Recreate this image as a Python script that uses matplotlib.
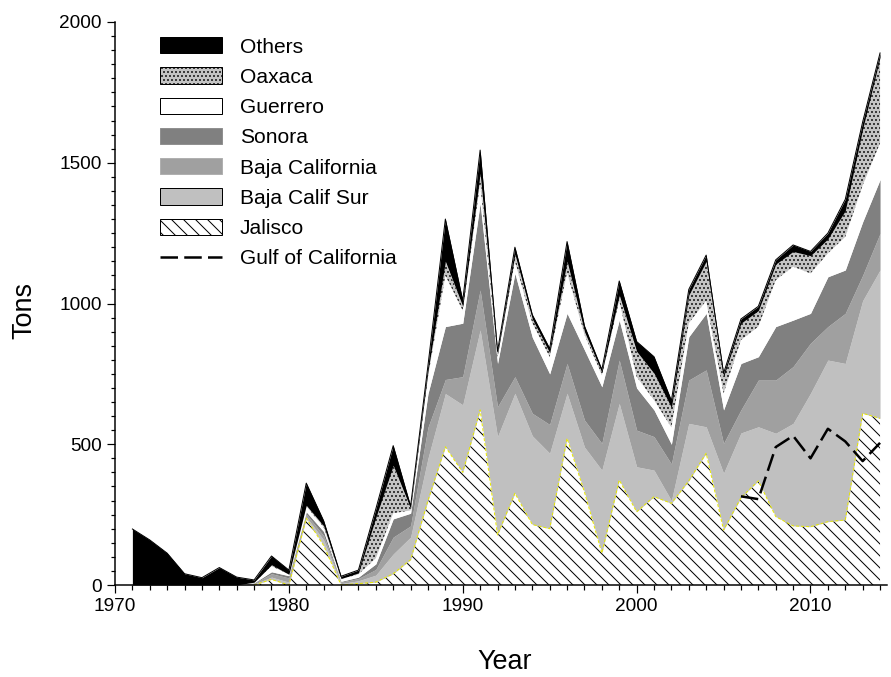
import numpy as np
import matplotlib.pyplot as plt
from matplotlib.patches import Patch
from matplotlib.lines import Line2D
from matplotlib.ticker import MultipleLocator


years = np.arange(1971, 2015)

# tons per state (stack order bottom -> top)
jalisco = [0, 0, 0, 0, 0, 0, 0, 0, 20, 0, 237, 140, 0, 5, 10, 40, 90, 300, 491, 400,
           622, 178, 326, 215, 200, 521, 330, 113, 373, 260, 314, 290, 370, 468, 195,
           310, 370, 243, 210, 207, 225, 231, 610, 592]
baja_sur = [0, 0, 0, 0, 0, 0, 0, 3, 8, 10, 5, 20, 5, 10, 25, 70, 80, 150, 189, 240,
            284, 349, 355, 315, 268, 160, 160, 295, 272, 160, 94, 10, 204, 94, 202,
            230, 192, 296, 364, 474, 574, 556, 400, 527]
baja_cal = [0, 0, 0, 0, 0, 0, 0, 3, 12, 15, 10, 15, 5, 8, 20, 60, 40, 110, 50, 100,
            142, 106, 59, 80, 102, 106, 96, 95, 154, 130, 119, 130, 154, 202, 106,
            82, 166, 189, 202, 178, 119, 178, 90, 130]
sonora = [0, 0, 0, 0, 0, 0, 0, 2, 7, 8, 8, 15, 3, 5, 20, 65, 45, 120, 188, 190,
          308, 154, 367, 270, 180, 178, 249, 201, 142, 150, 95, 70, 154, 201, 119,
          165, 83, 190, 165, 106, 177, 154, 190, 191]
guerrero = [0, 0, 0, 0, 0, 0, 0, 2, 20, 5, 20, 15, 8, 10, 20, 20, 10, 60, 182, 45,
            71, 23, 43, 50, 60, 145, 55, 41, 69, 40, 35, 60, 48, 45, 59,
            83, 107, 165, 190, 142, 83, 118, 130, 130]
oaxaca = [0, 0, 0, 0, 0, 0, 0, 0, 5, 0, 3, 5, 2, 5, 145, 170, 7, 20, 50, 15,
          35, 10, 25, 15, 15, 40, 10, 10, 20, 90, 95, 70, 100, 140, 59,
          60, 57, 57, 54, 63, 52, 93, 200, 305]
others = [199, 160, 113, 40, 26, 62, 28, 8, 31, 15, 79, 18, 8, 10, 30, 70, 8, 20, 150, 20,
          83, 10, 25, 15, 15, 70, 20, 10, 50, 35, 59, 25, 20, 22, 12,
          15, 15, 15, 23, 15, 20, 40, 25, 15]

gulf_years = np.arange(2006, 2015)
gulf = [315, 305, 490, 530, 450, 555, 510, 440, 505]

plt.rcParams['font.family'] = ['Liberation Sans', 'DejaVu Sans']
plt.rcParams['hatch.linewidth'] = 1.0

# dpi 72 so that one point is one pixel
fig = plt.figure(figsize=(891 / 72, 677 / 72), dpi=72)
ax = fig.add_axes([115 / 891, 92 / 677, 772 / 891, 563 / 677])

layers = [
    (jalisco, 'white', '\\\\', 'black'),
    (baja_sur, '#c0c0c0', None, '#c0c0c0'),
    (baja_cal, '#a0a0a0', None, '#a0a0a0'),
    (sonora, '#808080', None, '#808080'),
    (guerrero, 'white', None, 'white'),
    (oaxaca, '#c4c4c4', '...', 'black'),
    (others, 'black', None, 'black'),
]
base = np.zeros(len(years))
for vals, fc, hatch, ec in layers:
    top = base + np.array(vals)
    ax.fill_between(years, base, top, facecolor=fc, hatch=hatch, edgecolor=ec, linewidth=0)
    base = top

# thin outline along the total, as in the original
ax.plot(years, base, color='black', lw=1)
ax.plot(years[7:], np.array(jalisco[7:]), color='#e8e800', lw=1, dashes=(3, 2))
ax.plot(gulf_years, gulf, color='black', lw=2.5, dashes=(7, 2.5))

ax.set_xlim(1970, 2014.4)
ax.set_ylim(0, 2000)
ax.xaxis.set_major_locator(MultipleLocator(10))
ax.xaxis.set_minor_locator(MultipleLocator(1))
ax.yaxis.set_major_locator(MultipleLocator(500))
ax.yaxis.set_minor_locator(MultipleLocator(50))
ax.tick_params(which='major', length=8, width=1.2, labelsize=19, pad=5)
ax.tick_params(which='minor', length=4.5, width=1.2)
for s in ['top', 'right']:
    ax.spines[s].set_visible(False)
for s in ['left', 'bottom']:
    ax.spines[s].set_linewidth(1.5)

ax.set_xlabel('Year', fontsize=27)
ax.xaxis.set_label_coords(0.505, -0.113)
ax.set_ylabel('Tons', fontsize=27)
ax.yaxis.set_label_coords(-0.10, 0.488)

handles = [
    Patch(facecolor='black', edgecolor='black'),
    Patch(facecolor='#c4c4c4', edgecolor='black', hatch='...'),
    Patch(facecolor='white', edgecolor='black'),
    Patch(facecolor='#808080', edgecolor='#909090'),
    Patch(facecolor='#a0a0a0', edgecolor='#b0b0b0'),
    Patch(facecolor='#c0c0c0', edgecolor='black'),
    Patch(facecolor='white', edgecolor='black', hatch='\\\\'),
    Line2D([], [], color='black', lw=2.5, dashes=(7, 2.5)),
]
labels = ['Others', 'Oaxaca', 'Guerrero', 'Sonora', 'Baja California',
          'Baja Calif Sur', 'Jalisco', 'Gulf of California']
ax.legend(handles, labels, loc='upper left', bbox_to_anchor=(0.058, 0.973),
          frameon=False, fontsize=21, handlelength=2.95, handleheight=0.8,
          labelspacing=0.52, handletextpad=0.85, borderpad=0, borderaxespad=0)

fig.savefig('out.png', dpi=72)
